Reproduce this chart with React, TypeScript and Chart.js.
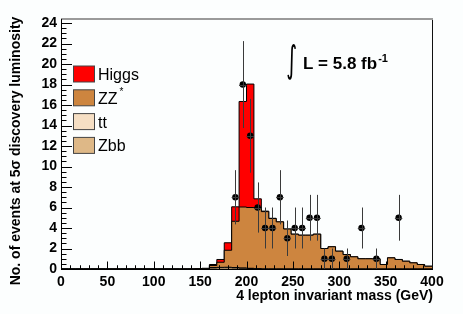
import React, { useEffect, useRef } from 'react';
import { Chart, registerables } from 'chart.js';

Chart.register(...registerables);

// ---------- data ----------
const MASS_MIN = 0; // GeV, low edge of first bin
const BIN_WIDTH = 8; // GeV
const X_MAX = 400;
const Y_MAX = 24.4;

// stacked histogram components, 50 bins of 8 GeV from 0 to 400 GeV
const zbb = [
  0, 0, 0, 0, 0, 0, 0, 0, 0, 0,
  0, 0, 0, 0, 0, 0, 0, 0, 0, 0.03,
  0.1, 0.12, 0.12, 0.1, 0.07, 0.05, 0.03, 0, 0, 0,
  0, 0, 0, 0, 0, 0, 0, 0, 0, 0,
  0, 0, 0, 0, 0, 0, 0, 0, 0, 0,
];
const tt = [
  0, 0, 0, 0, 0, 0, 0, 0, 0, 0,
  0, 0, 0, 0, 0, 0, 0, 0, 0, 0,
  0.04, 0.04, 0.05, 0.04, 0.03, 0.02, 0.01, 0, 0, 0,
  0, 0, 0, 0, 0, 0, 0, 0, 0, 0,
  0, 0, 0, 0, 0, 0, 0, 0, 0, 0,
];
const zz = [
  0, 0, 0, 0, 0, 0, 0, 0, 0, 0,
  0, 0, 0, 0, 0, 0, 0, 0, 0.02, 0.03,
  0.2, 0.5, 1.66, 4.52, 5.95, 5.93, 5.96, 5.6, 4.93, 4.6,
  3.9, 3.4, 3.3, 3.3, 3.4, 2.0, 2.17, 1.74, 1.41, 1.19,
  1.0, 1.0, 1.0, 0.44, 1.09, 0.93, 0.76, 0.6, 0.44, 0.27,
];
const higgs = [
  0, 0, 0, 0, 0, 0, 0, 0, 0, 0,
  0, 0, 0, 0, 0, 0, 0, 0, 0, 0,
  0.1, 0.27, 0.73, 1.41, 10.3, 12.05, 0.85, 0.05, 0.02, 0,
  0, 0, 0, 0, 0, 0, 0, 0, 0, 0,
  0, 0, 0, 0, 0, 0, 0, 0, 0, 0,
];

// pseudo-data points (bin centres, counts)
const dataMass = [188, 196, 204, 212, 220, 228, 236, 244, 252, 260, 268, 276, 284, 292, 308, 324, 340, 364];
const dataCounts = [7, 18, 13, 6, 4, 4, 7, 3, 4, 4, 5, 5, 1, 1, 1, 4, 1, 5];

const legendLabels = ['Higgs', 'ZZ', 'tt', 'Zbb'];
const legendSup = ['', '*', '', ''];

const xTitle = '4 lepton invariant mass (GeV)';
const yTitle = 'No. of events at 5\u03c3 discovery luminosity';
const lumiText = 'L = 5.8 fb';
const lumiSup = '-1';

// ---------- styles ----------
const HIGGS_COLOR = '#ff0000';
const ZZ_COLOR = '#cd853f';
const TT_COLOR = '#f6dfc4';
const ZBB_COLOR = '#deb887';
const legendColors = [HIGGS_COLOR, ZZ_COLOR, TT_COLOR, ZBB_COLOR];
const BG = '#fcfefe';
const FONT = "'Liberation Sans', Arial, Helvetica, sans-serif";

function cumulative(...parts: number[][]) {
  return parts[0].map((_, i) => parts.reduce((s, p) => s + p[i], 0));
}
function stepPoints(vals: number[]) {
  const pts = vals.map((v, i) => ({ x: MASS_MIN + i * BIN_WIDTH, y: v }));
  pts.push({ x: MASS_MIN + vals.length * BIN_WIDTH, y: vals[vals.length - 1] });
  return pts;
}

const bgPlugin = {
  id: 'bg',
  beforeDraw(chart: any) {
    const { ctx, width, height } = chart;
    ctx.save();
    ctx.fillStyle = BG;
    ctx.fillRect(0, 0, width, height);
    ctx.restore();
  },
};

const errorBarPlugin = {
  id: 'errbars',
  afterDatasetsDraw(chart: any) {
    const { ctx, chartArea: a } = chart;
    const xs = chart.scales.x;
    const ys = chart.scales.y;
    ctx.save();
    ctx.beginPath();
    ctx.rect(a.left, a.top, a.right - a.left, a.bottom - a.top);
    ctx.clip();
    ctx.strokeStyle = '#3a3a3a';
    ctx.lineWidth = 1;
    ctx.beginPath();
    dataMass.forEach((m, i) => {
      const n = dataCounts[i];
      const e = Math.sqrt(n);
      const px = Math.round(xs.getPixelForValue(m)) + 0.5;
      const py = Math.round(ys.getPixelForValue(n)) + 0.5;
      ctx.moveTo(px, ys.getPixelForValue(n + e));
      ctx.lineTo(px, ys.getPixelForValue(n - e));
      ctx.moveTo(xs.getPixelForValue(m - BIN_WIDTH / 2), py);
      ctx.lineTo(xs.getPixelForValue(m + BIN_WIDTH / 2), py);
    });
    ctx.stroke();
    ctx.restore();
  },
};

const axesPlugin = {
  id: 'rootAxes',
  afterDatasetsDraw(chart: any) {
    const { ctx, chartArea: a } = chart;
    const xs = chart.scales.x;
    const ys = chart.scales.y;
    ctx.save();
    ctx.strokeStyle = '#000';
    ctx.lineWidth = 1;
    ctx.beginPath();
    for (let k = 0; k <= 40; k++) {
      const v = k * 10;
      const px = Math.round(xs.getPixelForValue(v)) + 0.5;
      const len = k % 5 === 0 ? 7.5 : 3.75;
      ctx.moveTo(px, a.bottom);
      ctx.lineTo(px, a.bottom - len);
    }
    for (let k = 0; k <= 48; k++) {
      const v = k * 0.5;
      const py = Math.round(ys.getPixelForValue(v)) + 0.5;
      const len = k % 4 === 0 ? 11 : 5.5;
      ctx.moveTo(a.left, py);
      ctx.lineTo(a.left + len, py);
    }
    ctx.stroke();
    // frame
    ctx.strokeStyle = '#9a9a9a';
    ctx.lineWidth = 2;
    ctx.beginPath();
    ctx.moveTo(a.left, a.top);
    ctx.lineTo(a.right + 1, a.top);
    ctx.stroke();
    ctx.strokeStyle = '#111';
    ctx.lineWidth = 1;
    ctx.beginPath();
    ctx.moveTo(a.right + 0.5, a.top + 1);
    ctx.lineTo(a.right + 0.5, a.bottom);
    ctx.stroke();
    ctx.restore();
  },
};

const textPlugin = {
  id: 'texts',
  afterDraw(chart: any) {
    const { ctx, chartArea: a } = chart;
    ctx.save();
    ctx.fillStyle = '#000';
    // y title
    ctx.save();
    ctx.font = `bold 14px ${FONT}`;
    ctx.translate(20, 151);
    ctx.rotate(-Math.PI / 2);
    ctx.textAlign = 'center';
    ctx.textBaseline = 'alphabetic';
    ctx.fillText(yTitle, 0, 0);
    ctx.restore();
    // x title
    ctx.font = `bold 14px ${FONT}`;
    ctx.textAlign = 'right';
    ctx.textBaseline = 'alphabetic';
    ctx.fillText(xTitle, a.right + 1, 300);

    // legend
    ctx.textAlign = 'left';
    legendLabels.forEach((lab, i) => {
      const top = a.top + 47 + i * 23.8;
      ctx.fillStyle = legendColors[i];
      ctx.fillRect(73.5, top, 21, 16);
      ctx.strokeStyle = '#444';
      ctx.lineWidth = 1;
      ctx.strokeRect(73.5, top, 21, 16);
      ctx.fillStyle = '#000';
      ctx.font = `16px ${FONT}`;
      ctx.fillText(lab, 98, top + 14);
      if (legendSup[i]) {
        const w = ctx.measureText(lab).width;
        ctx.font = `10px ${FONT}`;
        ctx.fillText(legendSup[i], 98 + w + 2, top + 5);
      }
    });

    // integral luminosity
    ctx.save();
    ctx.font = `28px 'DejaVu Sans'`;
    const m = ctx.measureText('\u222b');
    const gh = m.actualBoundingBoxAscent + m.actualBoundingBoxDescent;
    const gw = m.actualBoundingBoxLeft + m.actualBoundingBoxRight;
    const sy = 37 / gh;
    const sx = 9 / gw;
    ctx.translate(287, 43);
    ctx.scale(sx, sy);
    ctx.textAlign = 'left';
    ctx.fillText('\u222b', m.actualBoundingBoxLeft, m.actualBoundingBoxAscent);
    ctx.restore();
    ctx.font = `bold 17px ${FONT}`;
    ctx.textAlign = 'left';
    ctx.fillText(lumiText, 303, 69);
    const lw = ctx.measureText(lumiText).width;
    ctx.font = `bold 11px ${FONT}`;
    ctx.fillText(lumiSup, 303 + lw + 1, 62);
    ctx.restore();
  },
};

export default function App() {
  const ref = useRef<HTMLCanvasElement | null>(null);
  useEffect(() => {
    if (!ref.current) return;
    const cZbb = cumulative(zbb);
    const cTt = cumulative(zbb, tt);
    const cZz = cumulative(zbb, tt, zz);
    const cH = cumulative(zbb, tt, zz, higgs);
    const histDs = (label: string, vals: number[], color: string, order: number) => ({
      label,
      data: stepPoints(vals),
      stepped: 'before' as const,
      fill: 'origin',
      backgroundColor: color,
      borderColor: '#000',
      borderWidth: 1,
      pointRadius: 0,
      pointHoverRadius: 0,
      tension: 0,
      order,
    });
    const chart = new Chart(ref.current, {
      type: 'line',
      data: {
        datasets: [
          {
            label: 'data',
            data: dataMass.map((m, i) => ({ x: m, y: dataCounts[i] })),
            showLine: false,
            pointRadius: 3.2,
            pointBackgroundColor: '#000',
            pointBorderWidth: 0,
            fill: false,
            order: 0,
          } as any,
          histDs('Zbb', cZbb, ZBB_COLOR, 1),
          histDs('tt', cTt, TT_COLOR, 2),
          histDs('ZZ', cZz, ZZ_COLOR, 3),
          histDs('Higgs', cH, HIGGS_COLOR, 4),
        ],
      },
      options: {
        responsive: false,
        maintainAspectRatio: false,
        animation: false,
        devicePixelRatio: 1,
        layout: { padding: { left: 0, right: 31, top: 19, bottom: 0 } },
        plugins: { legend: { display: false }, tooltip: { enabled: false } },
        scales: {
          x: {
            type: 'linear',
            min: 0,
            max: X_MAX,
            grid: { display: false, drawTicks: false },
            border: { display: true, color: '#000', width: 1, z: 1 },
            ticks: {
              stepSize: 50,
              includeBounds: false,
              padding: 5,
              color: '#000',
              maxRotation: 0,
              autoSkip: false,
              font: { family: FONT, size: 14, weight: 'bold' },
            },
            afterFit: (s: any) => {
              s.height = 45;
            },
          },
          y: {
            type: 'linear',
            min: 0,
            max: Y_MAX,
            grid: { display: false, drawTicks: false },
            border: { display: true, color: '#000', width: 1, z: 1 },
            ticks: {
              stepSize: 2,
              includeBounds: false,
              padding: 4,
              color: '#000',
              autoSkip: false,
              font: { family: FONT, size: 14, weight: 'bold' },
            },
            afterFit: (s: any) => {
              s.width = 61;
            },
          },
        },
      } as any,
      plugins: [bgPlugin, axesPlugin, errorBarPlugin, textPlugin],
    });
    return () => chart.destroy();
  }, []);
  return (
    <div style={{ position: 'fixed', left: 0, top: 0, width: 463, height: 314, background: BG }}>
      <canvas ref={ref} width={463} height={314} style={{ display: 'block', width: 463, height: 314 }} />
    </div>
  );
}
